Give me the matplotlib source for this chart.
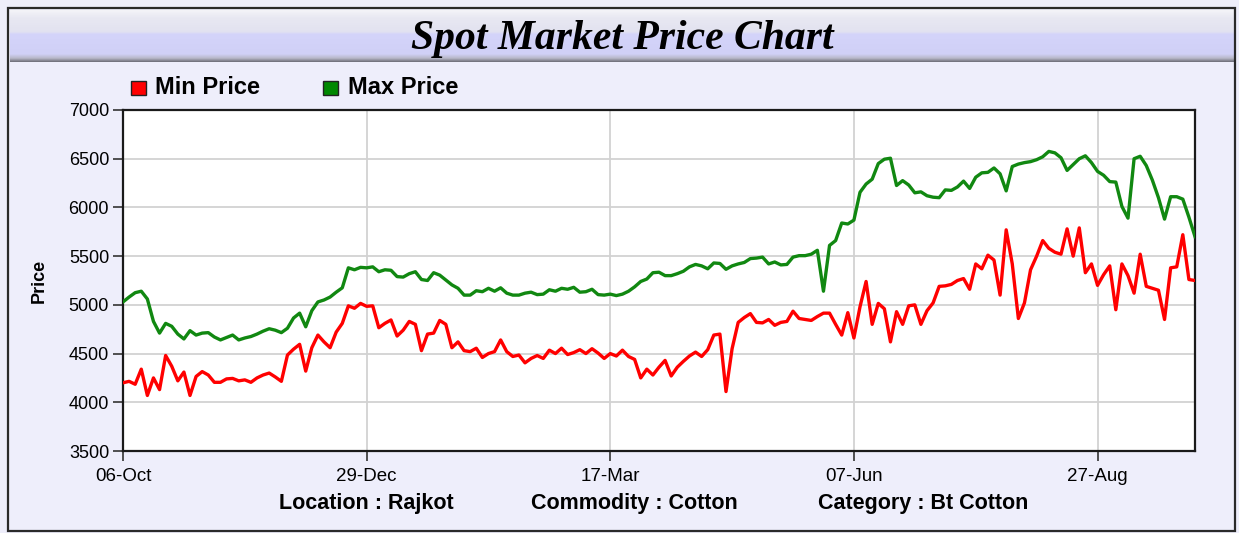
import matplotlib
matplotlib.use("Agg")
import matplotlib.pyplot as plt
import numpy as np
from matplotlib.patches import Rectangle
from matplotlib.colors import LinearSegmentedColormap

# ---------------- data ----------------
tick_labels = ["06-Oct", "29-Dec", "17-Mar", "07-Jun", "27-Aug"]
tick_step = 40

max_price = [
    5030, 5080, 5125, 5140, 5060, 4830, 4710, 4810, 4780, 4700,
    4650, 4735, 4690, 4710, 4715, 4670, 4640, 4665, 4690, 4640,
    4660, 4675, 4700, 4730, 4755, 4740, 4715, 4760, 4865, 4915,
    4775, 4940, 5030, 5050, 5080, 5130, 5175, 5380, 5360, 5385,
    5380, 5390, 5340, 5360, 5355, 5290, 5285, 5320, 5340, 5260,
    5250, 5330, 5305, 5255, 5205, 5170, 5100, 5100, 5145, 5135,
    5170, 5140, 5175, 5120, 5100, 5100, 5120, 5130, 5105, 5110,
    5155, 5140, 5170, 5160, 5180, 5130, 5135, 5160, 5105, 5100,
    5110, 5095, 5110, 5140, 5185, 5240, 5265, 5330, 5335, 5300,
    5300, 5320, 5345, 5390, 5415, 5400, 5370, 5430, 5425, 5365,
    5400, 5420, 5435, 5475, 5480, 5490, 5420, 5440, 5410, 5415,
    5490, 5505, 5505, 5520, 5560, 5140, 5610, 5660, 5840, 5830,
    5870, 6155, 6240, 6290, 6450, 6495, 6505, 6225, 6275, 6230,
    6150, 6160, 6120, 6105, 6100, 6180, 6175, 6210, 6270, 6195,
    6310, 6355, 6360, 6405, 6345, 6170, 6420, 6445, 6460, 6470,
    6490, 6520, 6575, 6560, 6510, 6380, 6440, 6500, 6530, 6460,
    6370, 6330, 6265, 6260, 6010, 5890, 6500, 6525, 6430, 6280,
    6100, 5880, 6110, 6110, 6085, 5900, 5700,
]

min_price = [
    4200, 4215, 4185, 4340, 4070, 4250, 4130, 4480, 4370, 4220,
    4310, 4070, 4265, 4315, 4280, 4205, 4205, 4240, 4245, 4220,
    4230, 4205, 4250, 4280, 4300, 4260, 4215, 4485, 4545, 4595,
    4320, 4560, 4690, 4620, 4560, 4720, 4810, 4990, 4965, 5015,
    4985, 4990, 4765, 4810, 4845, 4680, 4740, 4830, 4800, 4530,
    4700, 4710, 4840, 4800, 4560, 4620, 4530, 4520, 4555, 4460,
    4500, 4520, 4640, 4520, 4470, 4485, 4405, 4450, 4480, 4450,
    4535, 4500, 4555, 4490, 4510, 4540, 4500, 4550, 4505, 4450,
    4500, 4475, 4535, 4470, 4440, 4250, 4340, 4280, 4360, 4430,
    4270, 4360, 4420, 4475, 4515, 4470, 4540, 4690, 4700, 4110,
    4550, 4820, 4870, 4910, 4820, 4815, 4850, 4790, 4820, 4830,
    4935, 4860, 4850, 4840, 4880, 4915, 4915, 4800, 4690, 4920,
    4660, 4980, 5240, 4800, 5015, 4960, 4620, 4930, 4800, 4990,
    5000, 4800, 4940, 5020, 5190, 5195, 5210, 5250, 5270, 5160,
    5420, 5370, 5510, 5460, 5100, 5770, 5420, 4860, 5020, 5360,
    5500, 5660, 5580, 5540, 5520, 5780, 5500, 5790, 5330, 5420,
    5200, 5310, 5400, 4950, 5420, 5300, 5120, 5520, 5190, 5170,
    5150, 4850, 5380, 5390, 5720, 5260, 5250,
]

y_ticks = [3500, 4000, 4500, 5000, 5500, 6000, 6500, 7000]

# ---------------- figure ----------------
W, H = 1239, 533
fig = plt.figure(figsize=(W / 100, H / 100), dpi=100)
bg = "#EEEEFB"
fig.patch.set_facecolor(bg)


def fx(x):
    return x / W


def fy(y):
    return 1 - y / H


# title band with gradient
band = fig.add_axes([fx(10), fy(62), fx(1224), 52 / H])
cmap = LinearSegmentedColormap.from_list(
    "band",
    [(0.0, "#F4F4F8"), (0.15, "#E8E8F2"), (0.42, "#E2E2F0"),
     (0.46, "#D4D4FA"), (0.85, "#D0D0F6"), (0.93, "#B8B8C8"), (1.0, "#6E6E78")],
)
grad = np.linspace(0, 1, 200).reshape(-1, 1)
band.imshow(grad, aspect="auto", cmap=cmap, extent=[0, 1, 0, 1], origin="upper")
band.set_axis_off()
band.text(0.5, 0.44, "Spot Market Price Chart", transform=band.transAxes,
          ha="center", va="center", fontsize=30, fontweight="bold",
          fontstyle="italic", family="Liberation Serif", color="black")

# outer border
fig.add_artist(Rectangle((fx(8), fy(531)), fx(1227), 523 / H,
                         transform=fig.transFigure, fill=False,
                         ec="#2A2A2A", lw=1.6))

# main axes
ax = fig.add_axes([fx(123), fy(451), fx(1195 - 123), (451 - 110) / H])
ax.set_facecolor("white")
x = np.arange(len(max_price))
ax.plot(x, min_price, color="#FF0000", lw=2.4, solid_joinstyle="round", zorder=3)
ax.plot(x, max_price, color="#118811", lw=2.4, solid_joinstyle="round", zorder=3)

ax.set_xlim(0, len(max_price) - 1)
ax.set_ylim(3500, 7000)
ax.set_yticks(y_ticks)
ax.set_yticklabels([str(v) for v in y_ticks], fontsize=13, family="Liberation Sans")
xt = [i * tick_step for i in range(len(tick_labels))]
ax.set_xticks(xt)
ax.set_xticklabels(tick_labels, fontsize=13.5, family="Liberation Sans")
ax.grid(True, color="#D2D2D2", lw=1.3, zorder=0)
ax.set_axisbelow(True)
ax.tick_params(axis="both", direction="out", length=7, width=1.2, color="#333333")
ax.tick_params(axis="y", pad=3)
ax.tick_params(axis="x", pad=5)
for s in ax.spines.values():
    s.set_color("#1A1A1A")
    s.set_linewidth(1.6)
ax.set_ylabel("Price", fontsize=13, fontweight="bold", family="Liberation Sans", labelpad=15)

# legend (manual)
fig.add_artist(Rectangle((fx(131), fy(95)), 15 / W, 14 / H, transform=fig.transFigure,
                         fc="#FF0000", ec="#222222", lw=1.0))
fig.text(fx(155), fy(88), "Min Price", fontsize=17, fontweight="bold",
         family="Liberation Sans", va="center", ha="left")
fig.add_artist(Rectangle((fx(323), fy(95)), 15 / W, 14 / H, transform=fig.transFigure,
                         fc="#008800", ec="#222222", lw=1.0))
fig.text(fx(348), fy(88), "Max Price", fontsize=17, fontweight="bold",
         family="Liberation Sans", va="center", ha="left")

# footer labels
for cx, txt in [(366, "Location : Rajkot"), (634, "Commodity : Cotton"),
                (923, "Category : Bt Cotton")]:
    fig.text(fx(cx), fy(503), txt, fontsize=15.5, fontweight="bold",
             family="Liberation Sans", ha="center", va="center")

fig.savefig("out.png", dpi=100, facecolor=bg)
